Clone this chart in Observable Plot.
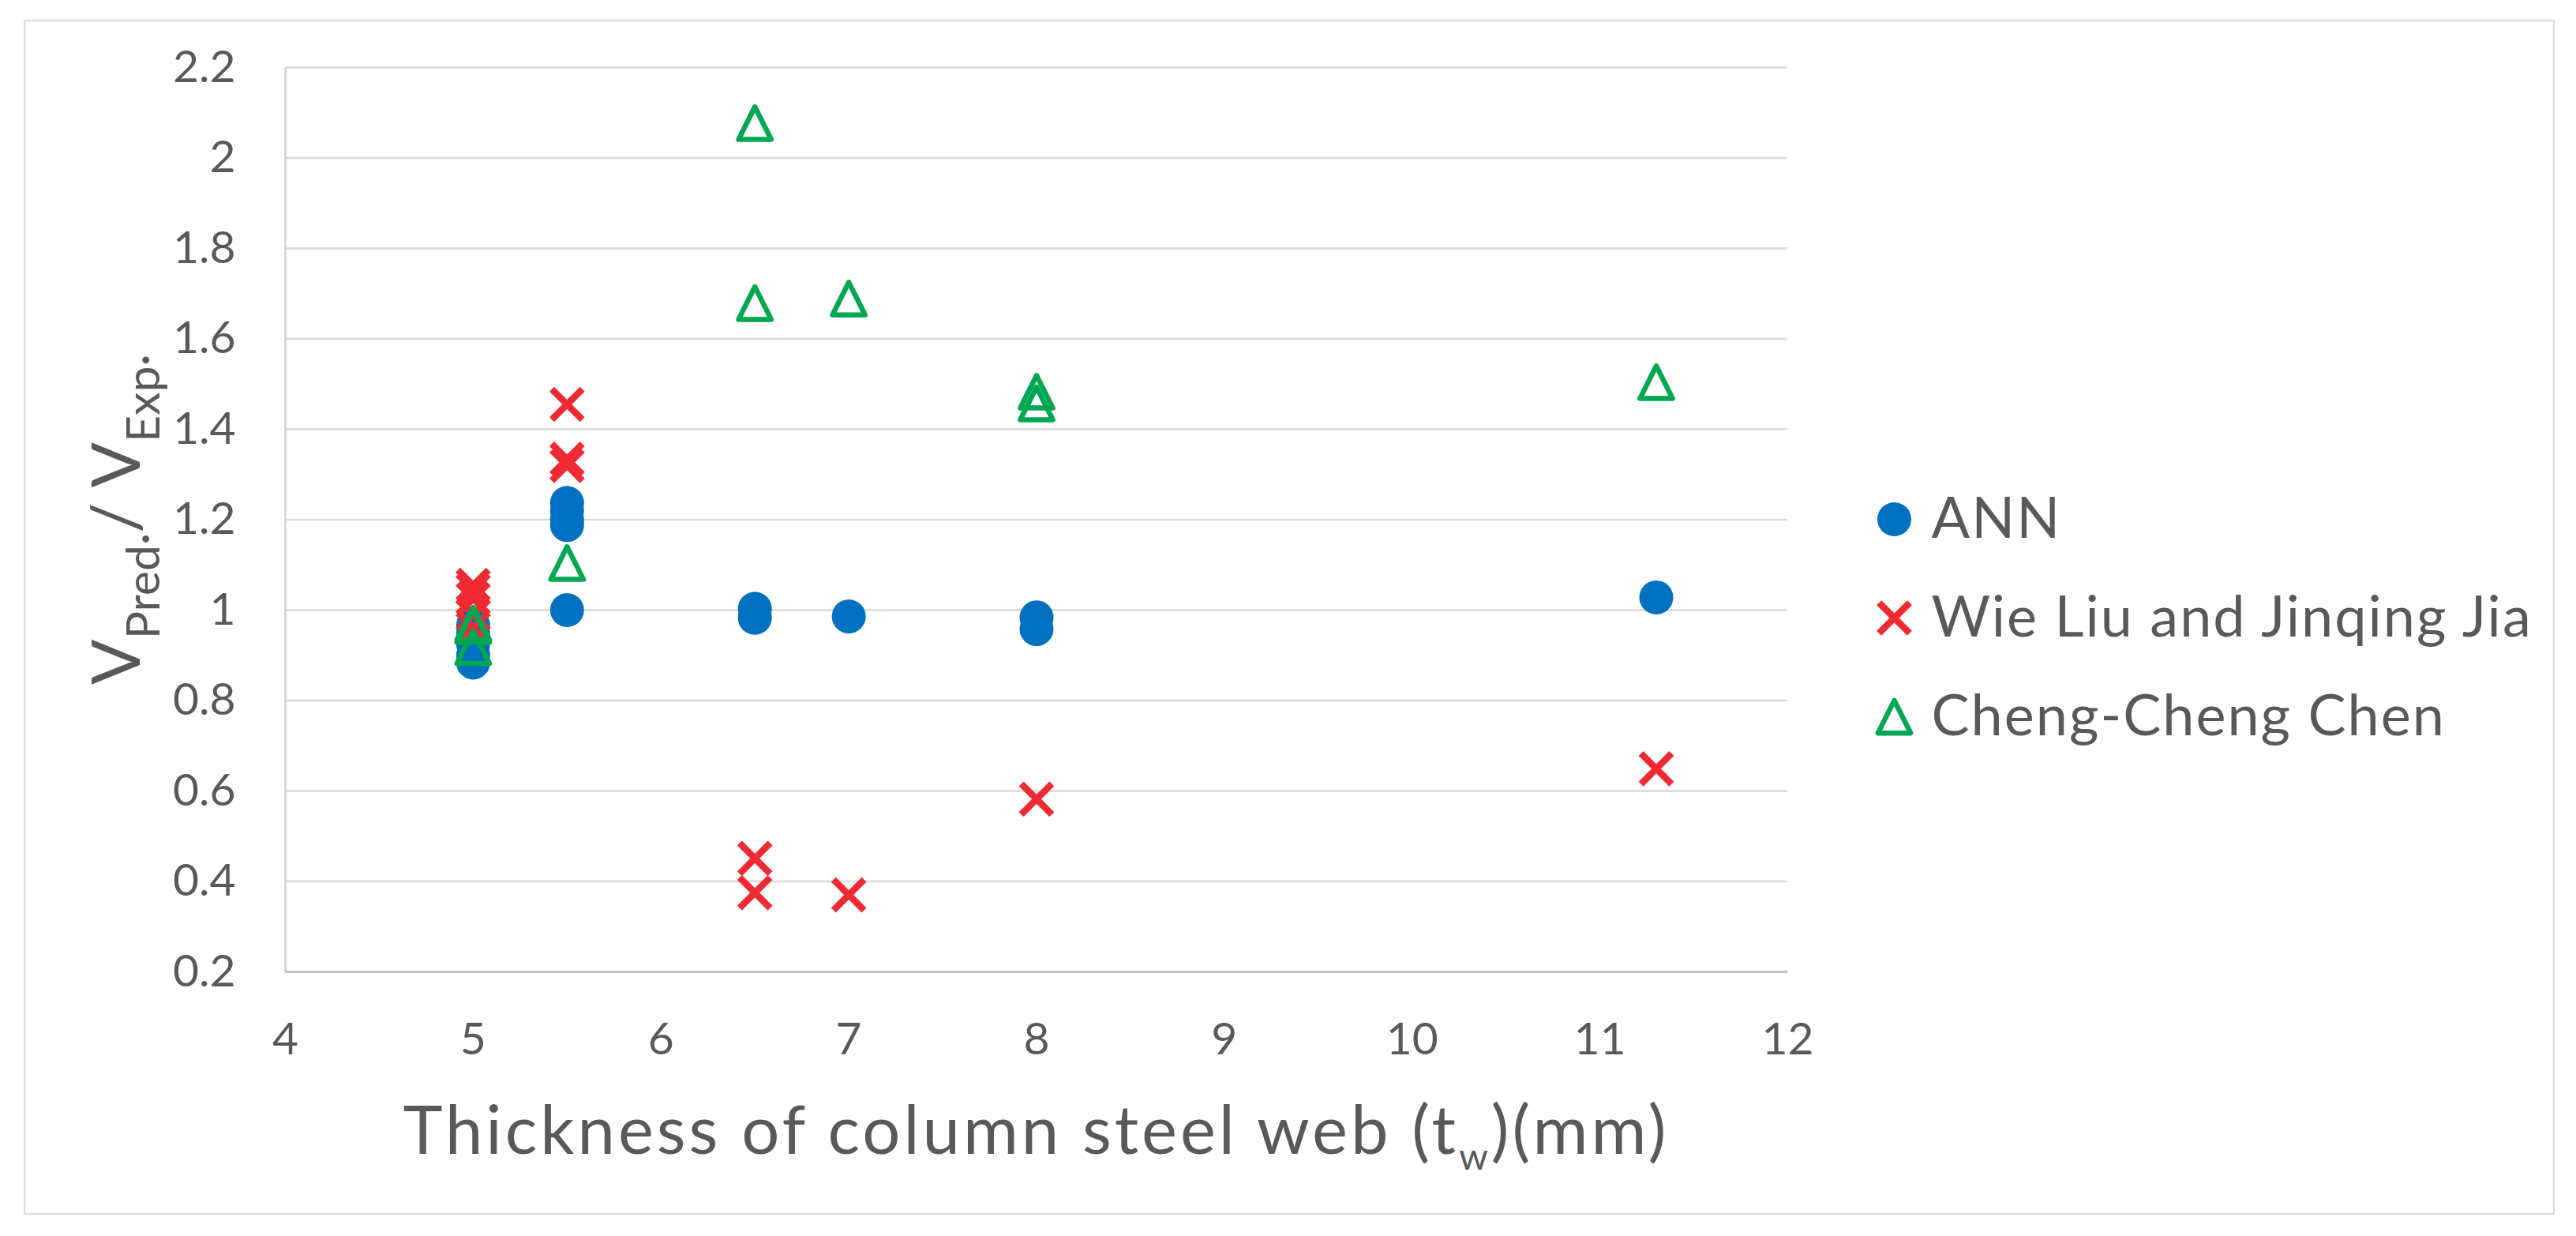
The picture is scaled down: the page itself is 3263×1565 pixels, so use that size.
<!DOCTYPE html>
<html>
<head>
<meta charset="utf-8">
<script src="https://cdn.jsdelivr.net/npm/d3@7"></script>
<script src="https://cdn.jsdelivr.net/npm/@observablehq/plot@0.6"></script>
<style>
  html, body { margin: 0; padding: 0; background: #fff; }
  #chart { position: relative; width: 3263px; height: 1565px; background: #fff; overflow: hidden; font-family: Lato, sans-serif; }
  #frame { position: absolute; left: 30px; top: 25px; width: 3206px; height: 1513px; border: 2.5px solid #d9d9d9; box-sizing: border-box; }
  #main { position: absolute; left: 0; top: 0; }
  #legend { position: absolute; left: 2350px; top: 600px; }
</style>
</head>
<body>
<div id="chart">
  <div id="frame"></div>
  <div id="main"></div>
  <div id="legend"></div>
</div>
<script>
// Column web thickness (mm) against V_pred / V_exp for each prediction method
const annX  = [5, 5, 5, 5, 5, 5.5, 5.5, 5.5, 5.5, 5.5, 6.5, 6.5, 7, 8, 8, 11.3];
const annY  = [0.884, 0.90, 0.925, 0.95, 0.967, 1.237, 1.22, 1.20, 1.188, 1.0, 1.003, 0.983, 0.986, 0.984, 0.958, 1.028];

const liuX  = [5, 5, 5, 5, 5, 5.5, 5.5, 5.5, 6.5, 6.5, 7, 8, 11.3];
const liuY  = [1.055, 1.045, 1.025, 0.99, 0.96, 1.455, 1.334, 1.32, 0.451, 0.375, 0.37, 0.582, 0.649];

const chenX = [5, 5, 5, 5.5, 6.5, 6.5, 7, 8, 8, 11.3];
const chenY = [0.97, 0.965, 0.918, 1.104, 2.077, 1.679, 1.689, 1.483, 1.457, 1.504];

const seriesNames  = ["ANN", "Wie Liu and Jinqing Jia", "Cheng-Cheng Chen"];
const seriesColors = ["#0070c0", "#ee2a33", "#00a651"];

const xTicks = [4, 5, 6, 7, 8, 9, 10, 11, 12];
const yTicks = [0.2, 0.4, 0.6, 0.8, 1.0, 1.2, 1.4, 1.6, 1.8, 2.0, 2.2];

const textColor = "#595959";
const fontFamily = "Lato, sans-serif";

const toRows = (xs, ys) => xs.map((x, i) => ({x, y: ys[i]}));
const ann  = toRows(annX, annY);
const liu  = toRows(liuX, liuY);
const chen = toRows(chenX, chenY);

// Marker shapes: a diagonal cross and an isosceles triangle, sized from the dot radius
const crossSymbol = {
  draw(ctx, size) {
    const a = Math.sqrt(size / Math.PI) * 0.9;
    ctx.moveTo(-a, -a); ctx.lineTo(a, a);
    ctx.moveTo(a, -a); ctx.lineTo(-a, a);
  }
};
const triangleSymbol = {
  draw(ctx, size) {
    const a = Math.sqrt(size / Math.PI) * 0.96;
    ctx.moveTo(0, -a); ctx.lineTo(a, a); ctx.lineTo(-a, a); ctx.closePath();
  }
};

const R = 21.5;
const markerStyles = [
  {r: R, fill: seriesColors[0], stroke: "none"},
  {r: R, symbol: crossSymbol, fill: "none", stroke: seriesColors[1], strokeWidth: 8.5},
  {r: R, symbol: triangleSymbol, fill: "none", stroke: seriesColors[2], strokeWidth: 6.5, strokeLinejoin: "round"}
];

const fmt = d => String(+d.toFixed(1));

const main = Plot.plot({
  width: 2330,
  height: 1565,
  marginLeft: 361,
  marginRight: 66,
  marginTop: 85,
  marginBottom: 335,
  style: {fontFamily, fontSize: "57px", color: textColor, background: "transparent", overflow: "visible"},
  x: {domain: [4, 12]},
  y: {domain: [0.2, 2.2]},
  marks: [
    Plot.gridY(yTicks, {stroke: "#d9d9d9", strokeOpacity: 1, strokeWidth: 2.7}),
    Plot.ruleX([4], {stroke: "#d0d0d0", strokeWidth: 2.5}),
    Plot.ruleY([0.2], {stroke: "#bfbfbf", strokeWidth: 3}),
    Plot.axisY(yTicks, {tickSize: 0, tickPadding: 63, tickFormat: fmt, label: null, fontSize: 57, fill: textColor}),
    Plot.axisX(xTicks, {tickSize: 0, tickPadding: 64, tickFormat: fmt, label: null, fontSize: 57, fill: textColor}),
    Plot.dot(ann,  {x: "x", y: "y", ...markerStyles[0]}),
    Plot.dot(liu,  {x: "x", y: "y", ...markerStyles[1]}),
    Plot.dot(chen, {x: "x", y: "y", ...markerStyles[2]})
  ]
});

// Axis titles with subscripts
const svg = d3.select(main);
const xs = main.scale("x"), ys = main.scale("y");
const cx = (xs.apply(4) + xs.apply(12)) / 2;
const cy = (ys.apply(0.2) + ys.apply(2.2)) / 2;

const xt = svg.append("text")
  .attr("x", cx).attr("y", 1461)
  .attr("text-anchor", "middle")
  .attr("letter-spacing", 4)
  .attr("font-family", fontFamily).attr("font-size", 85).attr("fill", textColor);
xt.append("tspan").text("Thickness of column steel web (t");
xt.append("tspan").attr("font-size", 47).attr("dy", 20).text("w");
xt.append("tspan").attr("dy", -20).text(")(mm)");

const yt = svg.append("text")
  .attr("transform", `translate(177,${cy}) rotate(-90)`)
  .attr("text-anchor", "middle")
  .attr("font-family", fontFamily).attr("font-size", 85).attr("fill", textColor);
yt.append("tspan").text("V");
yt.append("tspan").attr("font-size", 59).attr("dy", 25).text("Pred·");
yt.append("tspan").attr("dy", -25).text("/ V");
yt.append("tspan").attr("font-size", 59).attr("dy", 25).text("Exp·");

document.getElementById("main").appendChild(main);

// Legend: one marker and label per series
const legend = Plot.plot({
  width: 880,
  height: 380,
  margin: 0,
  style: {fontFamily, color: textColor, background: "transparent", overflow: "visible"},
  x: {domain: [0, 880], range: [0, 880], axis: null},
  y: {type: "point", domain: seriesNames, range: [57, 307], padding: 0, axis: null},
  marks: [
    ...seriesNames.map((name, i) => Plot.dot([name], {x: () => 49, y: d => d, ...markerStyles[i]})),
    Plot.text(seriesNames, {x: () => 96, y: d => d, text: d => d, textAnchor: "start", lineAnchor: "middle", fontSize: 72, fill: textColor})
  ]
});
d3.select(legend).selectAll("text").attr("letter-spacing", 2);
document.getElementById("legend").appendChild(legend);
</script>
</body>
</html>
